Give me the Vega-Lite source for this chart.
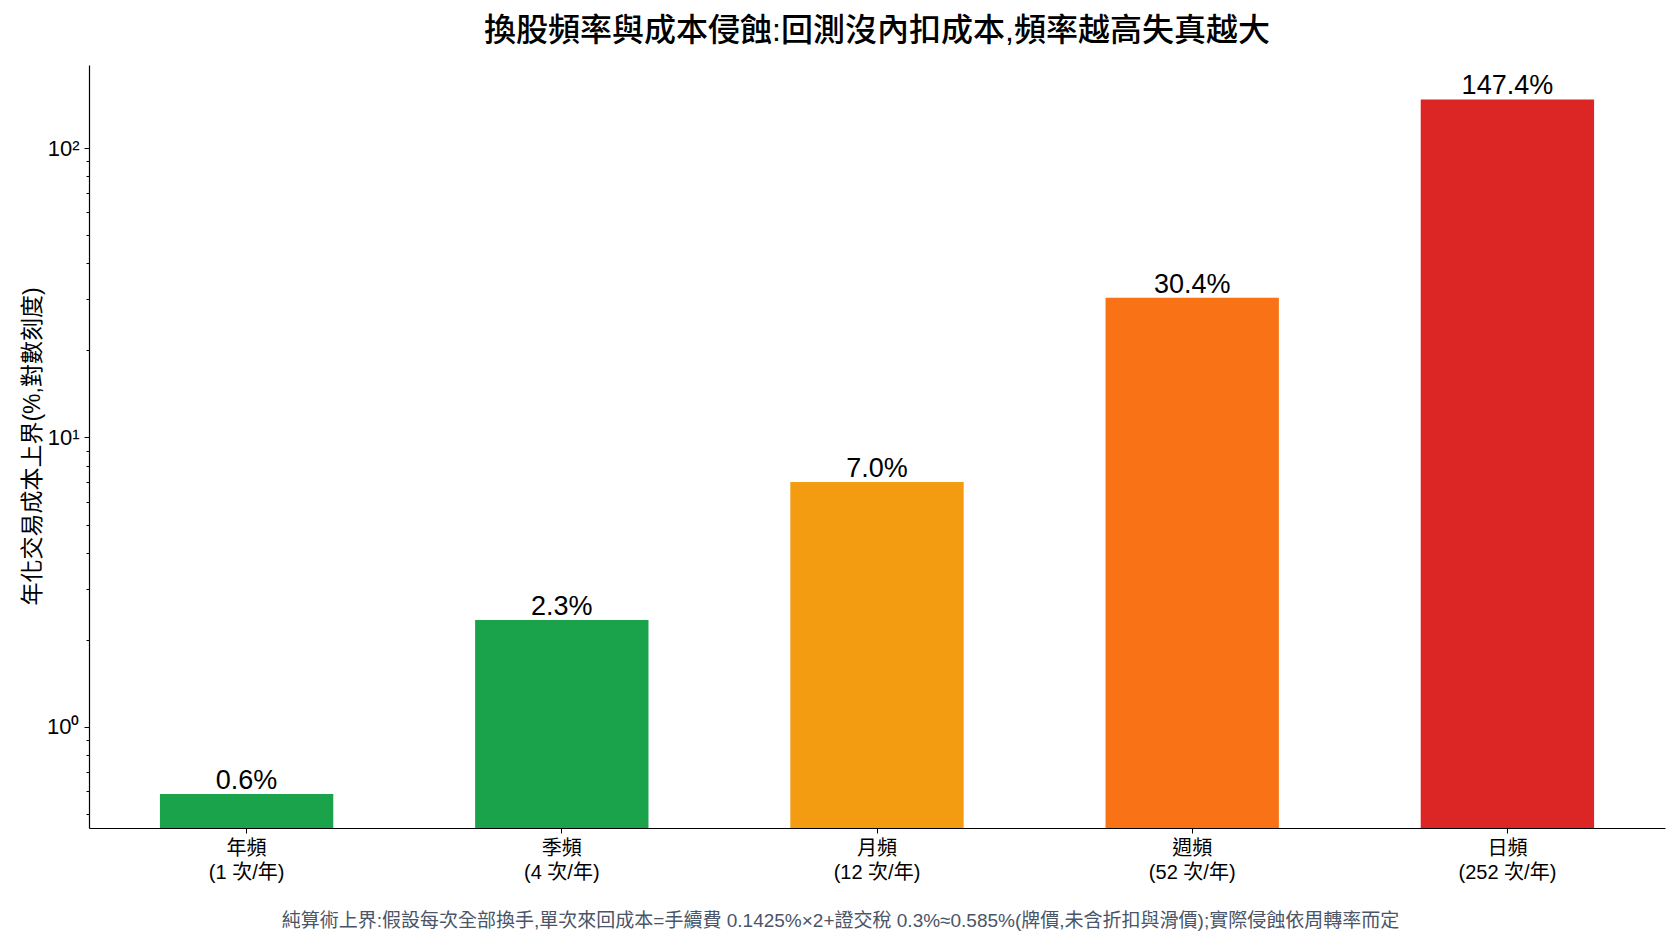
{
  "$schema": "https://vega.github.io/schema/vega-lite/v6.json",
  "width": 1576,
  "height": 763,
  "autosize": {"type": "none"},
  "padding": {"left": 89, "top": 65, "right": 15, "bottom": 117},
  "background": "white",
  "config": {"view": {"stroke": null}, "font": "Liberation Sans, Noto Sans CJK TC"},
  "title": {
    "text": "換股頻率與成本侵蝕:回測沒內扣成本,頻率越高失真越大",
    "fontSize": 32,
    "font": "Liberation Sans, Noto Sans CJK TC",
    "fontWeight": 500,
    "color": "#000000",
    "anchor": "middle",
    "offset": 17
  },
  "data": {
    "values": [
      {"label": "年頻|(1 次/年)", "value": 0.585, "pct": "0.6%"},
      {"label": "季頻|(4 次/年)", "value": 2.34, "pct": "2.3%"},
      {"label": "月頻|(12 次/年)", "value": 7.02, "pct": "7.0%"},
      {"label": "週頻|(52 次/年)", "value": 30.42, "pct": "30.4%"},
      {"label": "日頻|(252 次/年)", "value": 147.42, "pct": "147.4%"}
    ]
  },
  "encoding": {
    "x": {
      "field": "label",
      "type": "nominal",
      "sort": null,
      "scale": {"paddingInner": 0.45, "paddingOuter": 0.225},
      "axis": {
        "title": "純算術上界:假設每次全部換手,單次來回成本=手續費 0.1425%×2+證交稅 0.3%≈0.585%(牌價,未含折扣與滑價);實際侵蝕依周轉率而定",
        "titleFontSize": 19,
        "titleFontWeight": "normal",
        "titleColor": "#4a5568",
        "titleX": 751,
        "titleY": 92,
        "titleAlign": "center",
        "titleBaseline": "middle",
        "labelAngle": 0,
        "labelExpr": "split(datum.label, '|')",
        "labelFontSize": 20,
        "labelColor": "#000000",
        "labelLineHeight": 24,
        "labelBaseline": "top",
        "labelPadding": 5,
        "tickSize": 5,
        "tickColor": "#000000",
        "domainColor": "#000000",
        "domainWidth": 1.2
      }
    },
    "y": {
      "field": "value",
      "type": "quantitative",
      "scale": {"type": "log", "domain": [0.4466, 194], "nice": false, "zero": false},
      "axis": {
        "title": "年化交易成本上界(%,對數刻度)",
        "titleFontSize": 23,
        "titleFontWeight": "normal",
        "titleColor": "#000000",
        "titleAngle": -90,
        "titleX": -57,
        "titleY": 381,
        "titleAlign": "center",
        "titleBaseline": "middle",
        "values": [0.5, 0.6, 0.7, 0.8, 0.9, 1, 2, 3, 4, 5, 6, 7, 8, 9, 10, 20, 30, 40, 50, 60, 70, 80, 90, 100],
        "labelExpr": "datum.value == 1 ? '10⁰' : datum.value == 10 ? '10¹' : datum.value == 100 ? '10²' : ''",
        "labelOverlap": false,
        "labelFlush": false,
        "labelFontSize": 22,
        "labelColor": "#000000",
        "labelPadding": 5,
        "tickSize": {"condition": {"test": "datum.value == 1 || datum.value == 10 || datum.value == 100", "value": 5}, "value": 3},
        "tickColor": "#000000",
        "domainColor": "#000000",
        "domainWidth": 1.2,
        "grid": false
      }
    }
  },
  "layer": [
    {
      "mark": {"type": "bar"},
      "encoding": {
        "y2": {"datum": 0.4466},
        "color": {
          "field": "label",
          "type": "nominal",
          "sort": null,
          "scale": {
            "domain": ["年頻|(1 次/年)", "季頻|(4 次/年)", "月頻|(12 次/年)", "週頻|(52 次/年)", "日頻|(252 次/年)"],
            "range": ["#1aa34a", "#1aa34a", "#f39c12", "#f97316", "#dc2626"]
          },
          "legend": null
        }
      }
    },
    {
      "mark": {"type": "text", "baseline": "alphabetic", "dy": -5, "fontSize": 27, "color": "#000000"},
      "encoding": {"text": {"field": "pct"}}
    }
  ]
}
